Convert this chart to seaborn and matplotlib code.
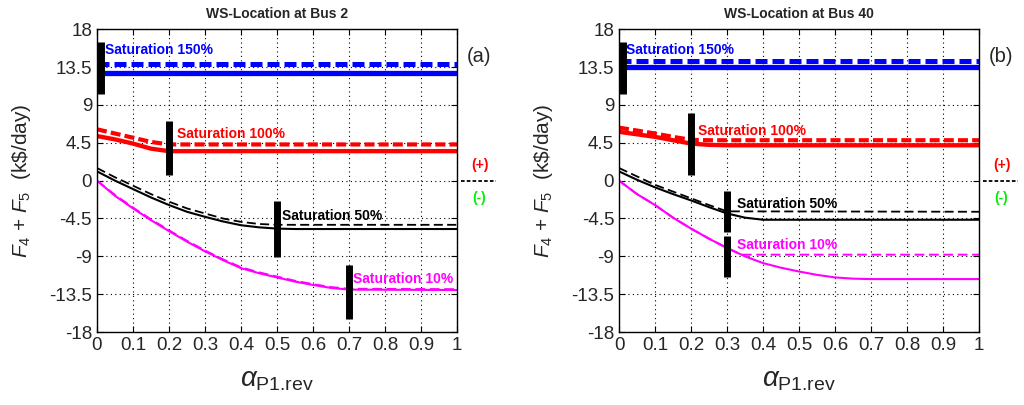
import numpy as np
import pandas as pd
import seaborn as sns
import matplotlib
matplotlib.use('Agg')
import matplotlib.pyplot as plt

# ---- data (k$/day) ----
alpha_grid = [0, 0.05, 0.1, 0.15, 0.2, 0.25, 0.3, 0.35, 0.4, 0.45, 0.5, 0.55, 0.6, 0.65, 0.7, 1.0]

# panel (a): WS at bus 2
a_sat150_solid = [12.8, 12.8]
a_sat150_dash = [13.9, 13.9]
a_sat100_x = [0, 0.05, 0.1, 0.15, 0.2, 0.25, 1.0]
a_sat100_solid = [5.3, 4.9, 4.4, 3.8, 3.5, 3.5, 3.5]
a_sat100_dash = [6.1, 5.6, 5.1, 4.6, 4.3, 4.3, 4.3]
a_sat50_solid = [1.1, 0.0, -1.0, -2.0, -2.9, -3.7, -4.3, -4.85, -5.3, -5.55, -5.7, -5.75, -5.75, -5.75, -5.75, -5.75]
a_sat50_dash = [1.5, 0.4, -0.6, -1.6, -2.5, -3.3, -3.9, -4.5, -4.9, -5.15, -5.25, -5.25, -5.25, -5.25, -5.25, -5.25]
a_sat10_solid = [0.0, -1.8, -3.3, -4.7, -6.0, -7.25, -8.4, -9.45, -10.4, -11.0, -11.5, -12.0, -12.4, -12.75, -12.95, -13.0]
a_sat10_dash = [0.0, -1.7, -3.2, -4.6, -5.9, -7.15, -8.3, -9.35, -10.3, -10.9, -11.4, -11.9, -12.3, -12.65, -12.85, -12.9]

# panel (b): WS at bus 40
b_sat150_solid = [13.5, 13.5]
b_sat150_dash = [14.2, 14.2]
b_sat100_x = [0, 0.05, 0.1, 0.15, 0.2, 0.25, 0.3, 1.0]
b_sat100_solid = [5.8, 5.5, 5.2, 4.8, 4.4, 4.25, 4.2, 4.2]
b_sat100_dash = [6.3, 5.95, 5.6, 5.2, 4.85, 4.8, 4.8, 4.8]
b_sat50_solid = [1.1, 0.1, -0.8, -1.6, -2.35, -3.15, -3.9, -4.4, -4.65, -4.65, -4.65, -4.65, -4.65, -4.65, -4.65, -4.65]
b_sat50_dash_x = [0, 0.05, 0.1, 0.15, 0.2, 0.25, 0.3, 1.0]
b_sat50_dash = [1.5, 0.5, -0.5, -1.3, -2.1, -2.9, -3.65, -3.7]
b_sat10_solid = [0.0, -1.6, -2.9, -4.4, -5.7, -6.9, -8.0, -9.0, -9.8, -10.35, -10.8, -11.2, -11.5, -11.65, -11.7, -11.7]
b_sat10_dash_x = [0, 0.05, 0.1, 0.15, 0.2, 0.25, 0.3, 0.34, 1.0]
b_sat10_dash = [0.0, -1.6, -2.9, -4.4, -5.7, -6.9, -8.0, -8.8, -8.8]

# saturation markers (vertical black bars)
a_bar_x = [0.011, 0.2, 0.5, 0.7]
a_bar_lo = [10.3, 0.7, -9.1, -16.5]
a_bar_hi = [16.5, 7.1, -2.4, -10.0]
b_bar_x = [0.011, 0.2, 0.3, 0.3]
b_bar_lo = [10.3, 0.7, -6.1, -11.5]
b_bar_hi = [16.5, 8.0, -1.2, -6.6]

labels = ['Saturation 150%', 'Saturation 100%', 'Saturation 50%', 'Saturation 10%']
a_label_pos = [(0.022, 15.5), (0.221, 5.5), (0.513, -4.2), (0.712, -11.7)]
b_label_pos = [(0.019, 15.5), (0.219, 5.9), (0.328, -2.75), (0.328, -7.6)]
colors = ['#0000ff', '#ff0000', '#000000', '#ff00ff']

yticks = [-18, -13.5, -9, -4.5, 0, 4.5, 9, 13.5, 18]
ytick_labels = ['-18', '-13.5', '-9', '-4.5', '0', '4.5', '9', '13.5', '18']
xticks = [0, 0.1, 0.2, 0.3, 0.4, 0.5, 0.6, 0.7, 0.8, 0.9, 1]
xtick_labels = ['0', '0.1', '0.2', '0.3', '0.4', '0.5', '0.6', '0.7', '0.8', '0.9', '1']

sns.set_style('white', {'axes.edgecolor': 'black'})
plt.rcParams['font.family'] = ['Liberation Sans', 'DejaVu Sans']
plt.rcParams['mathtext.fontset'] = 'custom'
plt.rcParams['mathtext.rm'] = 'Liberation Sans'
plt.rcParams['mathtext.it'] = 'Liberation Sans:italic'
plt.rcParams['mathtext.bf'] = 'Liberation Sans:bold'

fig = plt.figure(figsize=(10.24, 4.05), dpi=100)
ax_a = fig.add_axes([0.0947, 0.180, 0.3516, 0.748])
ax_b = fig.add_axes([0.6045, 0.180, 0.3516, 0.748])


def line(ax, x, y, color, lw, dashed=False, dash=(2.4, 1.0)):
    kw = dict(x=x, y=y, ax=ax, color=color, linewidth=lw)
    if dashed:
        kw['linestyle'] = (0, dash)
    sns.lineplot(**kw)


def panel(ax, title, tag, s150, d150, x100, s100, d100, s50, d50x, d50, s10, d10x, d10,
          bx, blo, bhi, lpos):
    line(ax, [0, 1], s150, colors[0], 3.8)
    line(ax, [0, 1], d150, colors[0], 3.6, True)
    line(ax, x100, s100, colors[1], 3.1)
    line(ax, x100, d100, colors[1], 3.0, True)
    line(ax, alpha_grid, s50, colors[2], 1.5)
    line(ax, d50x, d50, colors[2], 1.3, True, (5, 2.4))
    line(ax, alpha_grid, s10, colors[3], 1.5)
    line(ax, d10x, d10, colors[3], 1.4, True, (5, 2.4))

    ax.vlines(bx, blo, bhi, colors='black', linewidth=5, zorder=5)
    for txt, (tx, ty), c in zip(labels, lpos, colors):
        ax.text(tx, ty, txt, color=c, fontsize=10, fontweight='bold', va='center', ha='left', zorder=6)

    ax.set_xlim(0, 1)
    ax.set_ylim(-18, 18)
    ax.set_xticks(xticks)
    ax.set_xticklabels(xtick_labels)
    ax.set_yticks(yticks)
    ax.set_yticklabels(ytick_labels)
    ax.tick_params(which='both', direction='in', length=4, width=0.8, color='black',
                   top=True, right=True, bottom=True, left=True, labelsize=13.5, pad=3.5)
    ax.grid(True, linestyle=(0, (1, 3)), color='black', linewidth=0.8)
    for sp in ax.spines.values():
        sp.set_linewidth(1.0)
        sp.set_color('black')

    ax.set_title(title, fontsize=10, fontweight='bold', pad=8)
    ax.set_xlabel(r'$\alpha_{\text{P1.rev}}$', fontsize=20)
    ax.xaxis.set_label_coords(0.5, -0.115)
    ax.set_ylabel(r'$F_4$ + $F_5$  (k\$/day)', fontsize=15)
    ax.yaxis.set_label_coords(-0.178, 0.5)

    # side annotations outside the axes
    ax.text(1.061, 14.75, tag, fontsize=14.5, ha='center', va='center', clip_on=False)
    ax.text(1.063, 1.9, '(+)', color='#ff0000', fontsize=10, fontweight='bold',
            ha='center', va='center', clip_on=False)
    ax.text(1.061, -2.1, '(-)', color='#00ee00', fontsize=10, fontweight='bold',
            ha='center', va='center', clip_on=False)
    ax.plot([1.012, 1.108], [0, 0], color='black', linewidth=1.3, linestyle=(0, (2, 1.2)), clip_on=False)


panel(ax_a, 'WS-Location at Bus 2', '(a)', a_sat150_solid, a_sat150_dash,
      a_sat100_x, a_sat100_solid, a_sat100_dash,
      a_sat50_solid, alpha_grid, a_sat50_dash,
      a_sat10_solid, alpha_grid, a_sat10_dash,
      a_bar_x, a_bar_lo, a_bar_hi, a_label_pos)
panel(ax_b, 'WS-Location at Bus 40', '(b)', b_sat150_solid, b_sat150_dash,
      b_sat100_x, b_sat100_solid, b_sat100_dash,
      b_sat50_solid, b_sat50_dash_x, b_sat50_dash,
      b_sat10_solid, b_sat10_dash_x, b_sat10_dash,
      b_bar_x, b_bar_lo, b_bar_hi, b_label_pos)

fig.savefig('out.png', dpi=100)
